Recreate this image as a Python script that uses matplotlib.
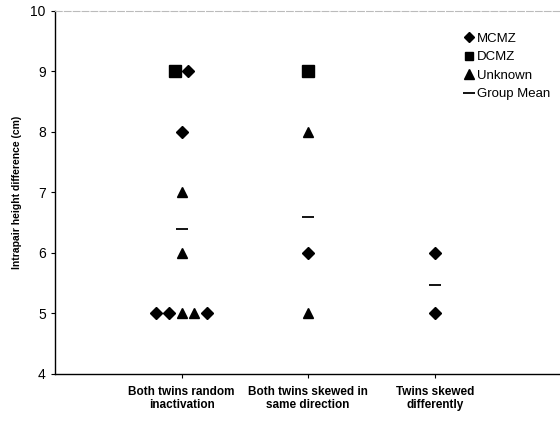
import matplotlib
matplotlib.use("Agg")
import matplotlib.pyplot as plt
from matplotlib.lines import Line2D

plt.rcParams['font.family'] = ['Liberation Sans', 'DejaVu Sans']

categories = ["Both twins random\ninactivation", "Both twins skewed in\nsame direction", "Twins skewed\ndifferently"]

# (category index, value, jitter slot) per marker type
mcmz_cat = [0, 0, 0, 0, 0, 1, 2, 2]
mcmz_val = [9, 8, 5, 5, 5, 6, 6, 5]
mcmz_slot = [0.5, 0, -2, -1, 2, 0, 0, 0]

dcmz_cat = [0, 1]
dcmz_val = [9, 9]
dcmz_slot = [-0.5, 0]

unk_cat = [0, 0, 0, 0, 1, 1]
unk_val = [7, 6, 5, 5, 8, 5]
unk_slot = [0, 0, 0, 1, 0, 0]

mean_cat = [0, 1, 2]
mean_val = [6.4, 6.6, 5.47]

fig = plt.figure(figsize=(5.6, 4.21), dpi=100)
ax = fig.add_axes([0.098, 0.112, 0.9, 0.862])

step = 0.1
def xs(cat, slot):
    return [c + 1 + s * step for c, s in zip(cat, slot)]

ax.plot(xs(mcmz_cat, mcmz_slot), mcmz_val, 'D', color='black', markersize=6.5, linestyle='none')
ax.plot(xs(dcmz_cat, dcmz_slot), dcmz_val, 's', color='black', markersize=8, linestyle='none')
ax.plot(xs(unk_cat, unk_slot), unk_val, '^', color='black', markersize=7.5, linestyle='none')
ax.plot([c + 1 for c in mean_cat], mean_val, '_', color='black', markersize=9, markeredgewidth=1.3, linestyle='none')

ax.set_xlim(0, 3.98)
ax.set_ylim(4, 10)
ax.set_yticks([4, 5, 6, 7, 8, 9, 10])
ax.set_xticks([1, 2, 3])
ax.set_xticklabels(categories, fontsize=8.5, fontweight='bold', linespacing=1.05)
ax.tick_params(axis='x', length=3, pad=6)
ax.tick_params(axis='y', labelsize=10, length=3)
ax.set_ylabel("Intrapair height difference (cm)", fontsize=7.5, fontweight='bold', labelpad=6)

ax.spines['right'].set_visible(False)
ax.spines['top'].set_color('#bbbbbb')
ax.spines['top'].set_linestyle((0, (6, 2)))
ax.spines['top'].set_linewidth(0.8)
for s in ['left', 'bottom']:
    ax.spines[s].set_linewidth(1.0)

handles = [
    Line2D([], [], marker='D', color='black', linestyle='none', markersize=5),
    Line2D([], [], marker='s', color='black', linestyle='none', markersize=6),
    Line2D([], [], marker='^', color='black', linestyle='none', markersize=6.5),
    Line2D([], [], marker='_', color='black', linestyle='none', markersize=8, markeredgewidth=1.3),
]
ax.legend(handles, ["MCMZ", "DCMZ", "Unknown", "Group Mean"], loc='upper left',
          bbox_to_anchor=(0.798, 0.955), frameon=False, fontsize=9.5,
          handletextpad=0.1, handlelength=1.0, labelspacing=0.48, borderaxespad=0)

fig.savefig("out.png", dpi=100)
